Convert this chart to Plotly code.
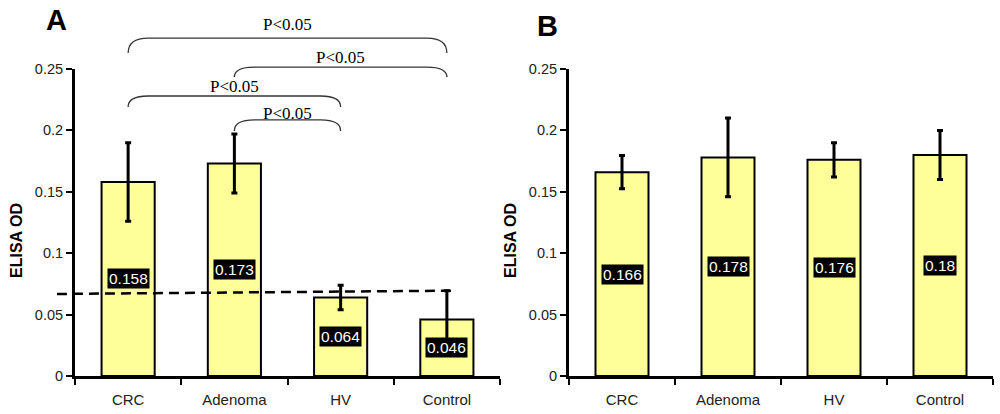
import plotly.graph_objects as go

# ---------------- data ----------------
categories = ["CRC", "Adenoma", "HV", "Control"]

a_values = [0.158, 0.173, 0.064, 0.046]
a_errors = [0.032, 0.024, 0.010, 0.0235]

b_values = [0.166, 0.178, 0.176, 0.180]
b_errors = [0.0135, 0.032, 0.014, 0.020]

a_labels = ["0.158", "0.173", "0.064", "0.046"]
b_labels = ["0.166", "0.178", "0.176", "0.18"]

y_tickvals = [0, 0.05, 0.1, 0.15, 0.2, 0.25]
y_ticktext = ["0", "0.05", "0.1", "0.15", "0.2", "0.25"]

# cut-off dashed line (panel A): category-unit span and OD values at its ends
cutoff_x = [-0.67, 3.06]
cutoff_y = [0.0668, 0.0695]

# significance brackets (panel A): from index, to index, top, end, label height
bracket_from = [0, 1, 0, 1]
bracket_to = [3, 3, 2, 2]
bracket_top = [0.2752, 0.2516, 0.2280, 0.2085]
bracket_end = [0.2630, 0.2435, 0.2190, 0.1995]
bracket_label_y = [0.2866, 0.2590, 0.2360, 0.2140]
bracket_text = ["P<0.05", "P<0.05", "P<0.05", "P<0.05"]

# ---------------- layout geometry ----------------
W, H = 1000, 414
ML, MR, MT, MB = 75, 7, 69, 38
plot_w = W - ML - MR
plot_h = H - MT - MB
YMAX = 0.25
domA = [0.0, 425 / plot_w]
domB = [494 / plot_w, 1.0]
n = len(categories)


def px_x(dom, cat_pos):
    # category position -> paper x
    frac = (cat_pos + 0.5) / n
    return dom[0] + frac * (dom[1] - dom[0])


def py(v):
    return v / YMAX


BAR_COLOR = "#FFFF99"

fig = go.Figure()
fig.add_trace(go.Bar(
    x=categories, y=a_values, width=0.5,
    marker=dict(color=BAR_COLOR, line=dict(color="black", width=2)),
    error_y=dict(type="data", array=a_errors, color="black", thickness=3, width=3),
    xaxis="x", yaxis="y", showlegend=False, hoverinfo="skip",
))
fig.add_trace(go.Bar(
    x=categories, y=b_values, width=0.5,
    marker=dict(color=BAR_COLOR, line=dict(color="black", width=2)),
    error_y=dict(type="data", array=b_errors, color="black", thickness=3, width=3),
    xaxis="x2", yaxis="y2", showlegend=False, hoverinfo="skip",
))

xaxis_common = dict(
    showline=True, linewidth=3, linecolor="black", showgrid=False, zeroline=False,
    ticks="outside", tickson="boundaries", ticklen=6, tickwidth=2, tickcolor="black",
    tickfont=dict(family="Liberation Sans, Arial", size=15, color="#222"),
    ticklabelstandoff=8, fixedrange=True, automargin=False,
)
yaxis_common = dict(
    range=[0, YMAX], tickvals=y_tickvals, ticktext=y_ticktext,
    showline=True, linewidth=3, linecolor="black", showgrid=False, zeroline=False,
    ticks="outside", ticklen=6, tickwidth=2, tickcolor="black",
    tickfont=dict(family="Liberation Sans, Arial", size=14.5, color="#222"),
    domain=[0, 1], fixedrange=True, automargin=False,
)

fig.update_layout(
    width=W, height=H,
    margin=dict(l=ML, r=MR, t=MT, b=MB, pad=0),
    paper_bgcolor="white", plot_bgcolor="white",
    xaxis=dict(domain=domA, anchor="y", **xaxis_common),
    yaxis=dict(anchor="x", **yaxis_common),
    xaxis2=dict(domain=domB, anchor="y2", **xaxis_common),
    yaxis2=dict(anchor="x2", **yaxis_common),
    bargap=0.5,
)

annotations = []
shapes = []

# value labels in the middle of bars
for xa, ya, vals, labs in (("x", "y", a_values, a_labels), ("x2", "y2", b_values, b_labels)):
    for c, v, t in zip(categories, vals, labs):
        annotations.append(dict(
            x=c, y=v / 2, xref=xa, yref=ya, text=t, showarrow=False,
            xanchor="center", yanchor="middle",
            bgcolor="black", borderpad=1,
            font=dict(family="Liberation Sans, Arial", size=15.5, color="white"),
        ))

# y-axis titles
for xp in ((16 - ML) / plot_w, (510 - ML) / plot_w):
    annotations.append(dict(
        x=xp, y=(376 - 241) / plot_h, xref="paper", yref="paper", text="<b>ELISA OD</b>",
        textangle=-90, showarrow=False, xanchor="center", yanchor="middle",
        font=dict(family="Liberation Sans, Arial", size=16, color="black"),
    ))

# panel letters
annotations.append(dict(x=(56.5 - ML) / plot_w, y=(376 - 20.5) / plot_h, xref="paper", yref="paper",
                        text="<b>A</b>", showarrow=False, xanchor="center", yanchor="middle",
                        font=dict(family="Liberation Sans, Arial", size=29, color="black")))
annotations.append(dict(x=(547 - ML) / plot_w, y=(376 - 26) / plot_h, xref="paper", yref="paper",
                        text="<b>B</b>", showarrow=False, xanchor="center", yanchor="middle",
                        font=dict(family="Liberation Sans, Arial", size=29, color="black")))

# cut-off dashed line
shapes.append(dict(
    type="line", xref="paper", yref="paper",
    x0=px_x(domA, cutoff_x[0]), x1=px_x(domA, cutoff_x[1]),
    y0=py(cutoff_y[0]), y1=py(cutoff_y[1]),
    line=dict(color="black", width=2.5, dash="10px,6px"),
))

# significance brackets
rx = 20 / plot_w
for i0, i1, top, end, ly, txt in zip(bracket_from, bracket_to, bracket_top, bracket_end,
                                     bracket_label_y, bracket_text):
    x0 = px_x(domA, i0)
    x1 = px_x(domA, i1)
    yt = py(top)
    ye = py(end)
    path = (f"M {x0},{ye} Q {x0},{yt} {x0 + rx},{yt} "
            f"L {x1 - rx},{yt} Q {x1},{yt} {x1},{ye}")
    shapes.append(dict(type="path", xref="paper", yref="paper", path=path,
                       line=dict(color="#333", width=1.3)))
    annotations.append(dict(
        x=(x0 + x1) / 2, y=py(ly), xref="paper", yref="paper", text=txt, showarrow=False,
        xanchor="center", yanchor="middle",
        font=dict(family="Liberation Serif, Times New Roman", size=17, color="black"),
    ))

fig.update_layout(annotations=annotations, shapes=shapes)
fig.write_html("out.html", config={"displayModeBar": False},
               post_script="document.body.style.margin='0px';")
